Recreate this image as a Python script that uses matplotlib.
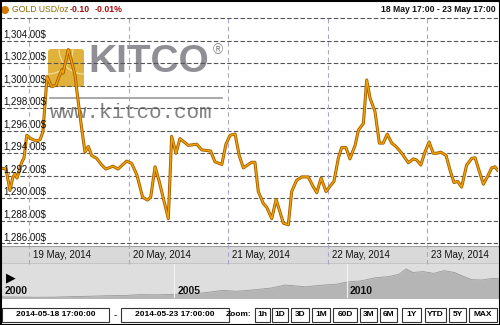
import matplotlib
matplotlib.use("Agg")
import matplotlib.pyplot as plt
import matplotlib.transforms as mtransforms
from matplotlib.patches import Rectangle, FancyBboxPatch, Circle, Arc

plt.rcParams['font.family'] = ['Liberation Sans', 'DejaVu Sans']

# gold price, hours since 18 May 17:00
hours = [0.0, 1.45, 2.4, 3.05, 3.6, 4.1, 5.25, 5.8, 6.45, 7.4, 8.7, 9.65, 10.35, 11.35,
         12.45, 13.5, 14.25, 14.9, 15.2, 16.5, 17.3, 18.1, 18.55, 19.7, 20.5, 21.3, 22.1,
         23.3, 24.55, 25.55, 27.25, 28.45, 30.55, 31.75, 33.0, 34.4, 35.55, 36.35, 37.4,
         38.4, 40.6, 41.4, 42.45, 43.4, 45.4, 47.45, 48.65, 50.8, 51.85, 53.5, 54.5, 55.5,
         56.7, 57.7, 58.7, 60.7, 61.5, 62.3, 63.5, 64.35, 65.55, 66.6, 68.35, 69.55, 70.35,
         71.55, 72.8, 74.35, 75.45, 76.4, 77.45, 78.65, 79.45, 80.55, 81.6, 82.4, 83.45,
         84.4, 85.65, 86.45, 87.65, 88.45, 89.25, 90.45, 91.5, 92.45, 93.4, 94.5, 95.5,
         96.9, 98.5, 99.7, 100.5, 101.5, 102.5, 103.5, 104.5, 105.35, 106.3, 107.6, 108.55,
         109.5, 110.4, 111.35, 112.55, 113.8, 114.6, 115.35, 116.6, 117.55, 118.6, 119.4, 120.0]
price = [1292.7, 1292.6, 1290.7, 1291.8, 1292.2, 1291.8, 1293.2, 1293.6, 1295.6, 1295.3,
         1295.1, 1295.2, 1295.9, 1300.8, 1299.9, 1300.05, 1300.8, 1301.4, 1301.1, 1303.2,
         1302.1, 1300.9, 1299.5, 1296.2, 1294.1, 1294.6, 1293.8, 1293.55, 1292.95, 1292.6,
         1292.85, 1292.6, 1293.3, 1293.1, 1292.1, 1290.1, 1289.85, 1290.1, 1292.8, 1291.5,
         1288.2, 1295.5, 1294.0, 1295.3, 1294.7, 1294.8, 1294.3, 1294.2, 1293.25, 1293.0,
         1294.8, 1295.6, 1295.7, 1293.8, 1292.7, 1293.2, 1293.2, 1290.6, 1289.55, 1289.2,
         1288.2, 1289.9, 1287.8, 1287.65, 1290.6, 1291.6, 1291.9, 1291.9, 1291.1, 1290.5,
         1291.8, 1290.6, 1291.0, 1291.5, 1293.55, 1294.5, 1294.5, 1293.5, 1294.7, 1296.05,
         1296.65, 1300.5, 1298.9, 1297.7, 1294.9, 1294.9, 1295.7, 1294.9, 1294.6, 1294.0,
         1293.15, 1293.5, 1293.4, 1292.95, 1294.1, 1295.0, 1294.0, 1294.0, 1294.1, 1293.8,
         1292.5, 1291.4, 1291.5, 1291.0, 1292.95, 1293.55, 1293.6, 1292.7, 1291.25, 1291.9,
         1292.7, 1292.8, 1292.5]

day_hours = [7, 31, 55, 79, 103]
day_labels = ['19 May, 2014', '20 May, 2014', '21 May, 2014', '22 May, 2014', '23 May, 2014']
price_ticks = [1286, 1288, 1290, 1292, 1294, 1296, 1298, 1300, 1302, 1304]

# navigator (long term)
nav_years = [2000.0, 2000.5, 2001.0, 2001.5, 2002.0, 2002.5, 2003.0, 2003.5, 2004.0, 2004.5,
             2005.0, 2005.5, 2006.0, 2006.4, 2006.8, 2007.3, 2007.8, 2008.2, 2008.8, 2009.2,
             2009.7, 2010.0, 2010.4, 2010.8, 2011.2, 2011.5, 2011.7, 2011.9, 2012.2, 2012.5,
             2012.8, 2013.1, 2013.4, 2013.6, 2013.9, 2014.2, 2014.4]
nav_vals = [285, 275, 265, 270, 300, 320, 350, 360, 410, 400, 430, 440, 550, 650, 600, 680,
            780, 950, 850, 930, 1000, 1120, 1180, 1350, 1420, 1550, 1850, 1650, 1700, 1600,
            1750, 1650, 1400, 1250, 1230, 1320, 1300]
nav_ticks = [2000, 2005, 2010]

zoom_buttons = ['1h', '1D', '3D', '1M', '60D', '3M', '6M', '1Y', 'YTD', '5Y', 'MAX']
button_x = [255, 272, 291, 312, 333, 360, 380, 402, 425, 449, 469]
button_w = [15, 16, 18, 18, 24, 17, 17, 19, 21, 17, 28]

W, H = 500, 325
fig = plt.figure(figsize=(5, 3.25), dpi=100)
canvas = fig.add_axes([0, 0, 1, 1], zorder=0)
canvas.set_xlim(0, W)
canvas.set_ylim(H, 0)
canvas.axis('off')

# main chart
ax = fig.add_axes([0, 1 - 246 / H, 497.5 / W, (246 - 17) / H], zorder=2)
ax.set_xlim(0, 120)
ax.set_ylim(1285.77, 1306.09)
for s in ax.spines.values():
    s.set_visible(False)
ax.set_xticks([])
ax.set_yticks([])

for v in price_ticks + [1306]:
    ax.axhline(v, color='#555555', lw=0.8, ls=(0, (4, 2)), zorder=1)
for h in day_hours:
    ax.axvline(h, ymin=-0.08, ymax=1, color='#a8a8cc', lw=0.8, ls=(0, (4, 3)), zorder=1, clip_on=False)

tr = mtransforms.blended_transform_factory(ax.transAxes, ax.transData)
for v in price_ticks:
    ax.annotate(f"{v:,.2f}$", (0.006, v), xycoords=tr, xytext=(0, 1), textcoords='offset points',
                fontsize=7, va='bottom', ha='left', color='#111111', zorder=4)

# watermark
wt = canvas.transData
logo = FancyBboxPatch((48, 49), 36, 38, boxstyle='round,pad=0,rounding_size=3',
                      transform=wt, fc='#e0ae30', ec='none', alpha=0.95, zorder=0.5)
ax.add_patch(logo)
for cx, t1, t2 in [(48, 0, 90), (84, 90, 180)]:
    arc = Arc((cx, 49), 50, 50, theta1=t1, theta2=t2, transform=wt, color='#f3dfa8', lw=0.8, zorder=0.6)
    ax.add_patch(arc)
    arc.set_clip_path(logo)
ax.text(88, 62, 'KITCO', transform=wt, fontsize=28, fontweight='bold', color='#6a6a72',
        alpha=0.75, va='center', ha='left', zorder=0.5)
ax.text(213, 50, '®', transform=wt, fontsize=10, color='#8a8a8a', va='center', ha='left', zorder=0.5)
ax.plot([50, 222], [98, 98], transform=wt, color='#9a9a9a', lw=1.2, zorder=0.5)
ax.text(50, 113, 'www.kitco.com', transform=wt, fontsize=15, family='Liberation Mono',
        color='#808080', va='center', ha='left', zorder=0.5)

ax.plot(hours, price, color='#a35c00', lw=2.2, zorder=3, solid_joinstyle='round')
ax.plot(hours, price, color='#f2a400', lw=1.0, zorder=3.1, solid_joinstyle='round')

# header
canvas.add_patch(Circle((5, 10), 3.3, color='#d07800'))
canvas.text(12, 10, 'GOLD USD/oz', fontsize=6.2, color='#8c6a00', va='center', ha='left')
canvas.text(70, 10, '-0.10', fontsize=6.2, fontweight='bold', color='#a80a0a', va='center', ha='left')
canvas.text(95, 10, '-0.01%', fontsize=6.2, fontweight='bold', color='#a80a0a', va='center', ha='left')
canvas.text(496, 10, '18 May 17:00 - 23 May 17:00', fontsize=6.2, fontweight='bold',
            color='#111111', va='center', ha='right')

# date band
canvas.add_patch(Rectangle((0, 246), W, 18, fc='#d9d9d9', ec='none'))
canvas.plot([0, W], [246, 246], color='#a0a0a0', lw=0.8)
trx = mtransforms.blended_transform_factory(ax.transData, canvas.transData)
for h, lab in zip(day_hours, day_labels):
    canvas.annotate(lab, (h, 255.5), xycoords=trx, xytext=(3, 0), textcoords='offset points',
                    fontsize=7, va='center', ha='left', color='#111111')

# navigator
nav = fig.add_axes([0, 1 - 298 / H, 1, (298 - 264) / H], zorder=1)
nav.set_xlim(1999.95, 2014.42)
nav.set_ylim(224, 2123)
nav.set_facecolor('#dedede')
nav.fill_between(nav_years, nav_vals, 0, color='#b5b5b5', lw=0)
nav.plot(nav_years, nav_vals, color='#9a9a9a', lw=0.6)
for y in nav_ticks[1:]:
    nav.axvline(y, color='#f2f2f2', lw=0.8)
for y in nav_ticks:
    nav.annotate(str(y), (y, 0), xycoords=mtransforms.blended_transform_factory(nav.transData, nav.transAxes),
                 xytext=(2, 1.5), textcoords='offset points', fontsize=7.5, fontweight='bold',
                 va='bottom', ha='left', color='#111111')
nav.text(0.012, 0.6, '▶', transform=nav.transAxes, fontsize=9, va='center', ha='left',
         family=['DejaVu Sans'], color='black')
nav.set_xticks([])
nav.set_yticks([])
for s in nav.spines.values():
    s.set_visible(False)
canvas.plot([0, W], [264, 264], color='#777777', lw=1.0, zorder=5)

# controls row
ctrl_y, ctrl_h = 308, 14
canvas.add_patch(Rectangle((2, ctrl_y), 107, ctrl_h, fc='white', ec='#333333', lw=0.8))
canvas.text(55.5, ctrl_y + ctrl_h / 2, '2014-05-18 17:00:00', fontsize=6, fontweight='bold',
            ha='center', va='center')
canvas.text(115, ctrl_y + ctrl_h / 2, '-', fontsize=7, ha='center', va='center')
canvas.add_patch(Rectangle((121, ctrl_y), 108, ctrl_h, fc='white', ec='#333333', lw=0.8))
canvas.text(175, ctrl_y + ctrl_h / 2, '2014-05-23 17:00:00', fontsize=6, fontweight='bold',
            ha='center', va='center')
canvas.text(226, ctrl_y + ctrl_h / 2, 'Zoom:', fontsize=6, fontweight='bold', ha='left', va='center')
for lab, bx, bw in zip(zoom_buttons, button_x, button_w):
    canvas.add_patch(Rectangle((bx, ctrl_y), bw, ctrl_h, fc='white', ec='#333333', lw=0.8))
    canvas.text(bx + bw / 2, ctrl_y + ctrl_h / 2, lab, fontsize=6, fontweight='bold',
                ha='center', va='center')

# outer border
border = fig.add_axes([0, 0, 1, 1], zorder=10)
border.set_xlim(0, W)
border.set_ylim(H, 0)
border.axis('off')
border.add_patch(Rectangle((0.5, 0.5), W - 1, H - 1, fc='none', ec='black', lw=1.5))

fig.savefig('out.png', dpi=100)
